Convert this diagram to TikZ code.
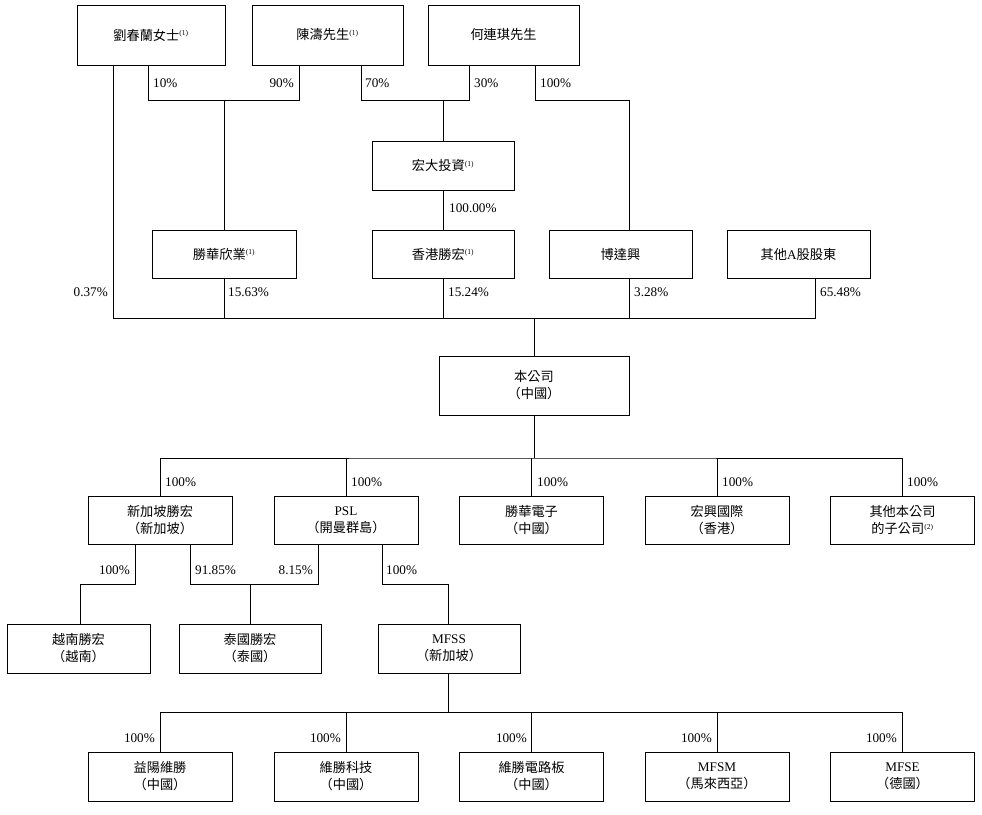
\documentclass[tikz,border=0pt]{standalone}
\usepackage{fontspec}
\setmainfont{Liberation Serif}
\newfontfamily\cjk{Noto Sans CJK TC}
\newcommand{\nt}[1]{\textsuperscript{\fontsize{7.5}{8}\selectfont\rmfamily(#1)}}
\begin{document}
\begin{tikzpicture}[x=1pt,y=-1pt,
  box/.style={draw, line width=0.8pt, inner sep=0pt, align=center,
    font=\fontsize{13.2}{17}\selectfont\cjk},
  pct/.style={inner sep=0pt, font=\fontsize{13.2}{14}\selectfont\rmfamily},
  ln/.style={line width=0.8pt}]
\useasboundingbox[fill=white] (0,0) rectangle (982,814);
% row 1
\node[box, minimum width=148, minimum height=60] (liu) at (151,35) {劉春蘭女士\nt{1}};
\node[box, minimum width=151, minimum height=60] (chen) at (327.5,35) {\raisebox{-2pt}{陳濤先生\nt{1}}};
\node[box, minimum width=151, minimum height=60] (he) at (503.5,35) {何連琪先生};
% hongda
\node[box, minimum width=142, minimum height=49] (hongda) at (443,165.5) {宏大投資\nt{1}};
% row 2
\node[box, minimum width=144, minimum height=48] (shwx) at (224,254) {勝華欣業\nt{1}};
\node[box, minimum width=142, minimum height=48] (hksh) at (443,254) {香港勝宏\nt{1}};
\node[box, minimum width=143, minimum height=48] (bdx) at (620.5,254) {博達興};
\node[box, minimum width=143, minimum height=48] (otha) at (798.5,254) {其他{\rmfamily A}股股東};
% company
\node[box, minimum width=190, minimum height=59] (comp) at (534,385.5) {本公司\\（中國）};
% row 3
\node[box, minimum width=144, minimum height=48] (sg) at (160,520) {新加坡勝宏\\（新加坡）};
\node[box, minimum width=144, minimum height=48] (psl) at (346,520) {{\rmfamily PSL}\\（開曼群島）};
\node[box, minimum width=144, minimum height=48] (shdz) at (531.5,520) {勝華電子\\（中國）};
\node[box, minimum width=144, minimum height=48] (hxgj) at (717,520) {宏興國際\\（香港）};
\node[box, minimum width=144, minimum height=48] (othsub) at (902.5,520) {其他本公司\\的子公司\nt{2}};
% row 4
\node[box, minimum width=143, minimum height=49] (vn) at (78.5,648.5) {越南勝宏\\（越南）};
\node[box, minimum width=142, minimum height=49] (th) at (250,648.5) {泰國勝宏\\（泰國）};
\node[box, minimum width=142, minimum height=49] (mfss) at (449,648.5) {{\rmfamily MFSS}\\（新加坡）};
% row 5
\node[box, minimum width=144, minimum height=49] (yy) at (160,776.5) {益陽維勝\\（中國）};
\node[box, minimum width=144, minimum height=49] (wskj) at (346,776.5) {維勝科技\\（中國）};
\node[box, minimum width=144, minimum height=49] (wsdl) at (531.5,776.5) {維勝電路板\\（中國）};
\node[box, minimum width=144, minimum height=49] (mfsm) at (717,776.5) {{\rmfamily MFSM}\\（馬來西亞）};
\node[box, minimum width=144, minimum height=49] (mfse) at (902.5,776.5) {{\rmfamily MFSE}\\（德國）};

% junction coordinates
\coordinate (a1) at (148,100); \coordinate (a2) at (299,100);
\coordinate (b1) at (361,100); \coordinate (b2) at (469,100);
\coordinate (c1) at (535,100); \coordinate (c2) at (629,100);
\coordinate (busL) at (113,318); \coordinate (busR) at (815,318);
\coordinate (busC) at (534,318);
\coordinate (m) at (534,458);
\coordinate (e1) at (135,584); \coordinate (e2) at (80,584);
\coordinate (f1) at (190,584); \coordinate (f2) at (318,584);
\coordinate (g1) at (382,584); \coordinate (g2) at (448,584);
\coordinate (n) at (448,712);

% top connectors
\draw[ln] (liu.south -| a1) |- (a2) -- (chen.south -| a2);
\draw[ln] (shwx.north) -- (shwx.north |- a1);
\draw[ln] (chen.south -| b1) |- (b2) -- (he.south -| b2);
\draw[ln] (hongda.north) -- (hongda.north |- b1);
\draw[ln] (he.south -| c1) |- (c2) -- (bdx.north -| c2);
\draw[ln] (hongda) -- (hksh);
\draw[ln] (liu.south -| busL) -- (busL) -- (busR) -- (otha.south -| busR);
\draw[ln] (shwx.south) -- (shwx.south |- busL);
\draw[ln] (hksh.south) -- (hksh.south |- busL);
\draw[ln] (bdx.south -| c2) -- (c2 |- busL);
\draw[ln] (busC) -- (comp.north -| busC);
% middle
\draw[ln] (comp.south -| m) -- (m);
\draw[ln] (sg.north) |- (m) -| (othsub.north);
\draw[ln] (psl.north) -- (psl.north |- m);
\draw[ln] (shdz.north) -- (shdz.north |- m);
\draw[ln] (hxgj.north) -- (hxgj.north |- m);
% row 3 -> 4
\draw[ln] (sg.south -| e1) |- (e2) -- (vn.north -| e2);
\draw[ln] (sg.south -| f1) |- (f2) -- (psl.south -| f2);
\draw[ln] (th.north) -- (th.north |- f1);
\draw[ln] (psl.south -| g1) |- (g2) -- (mfss.north -| g2);
% row 4 -> 5
\draw[ln] (mfss.south -| n) -- (n);
\draw[ln] (yy.north) |- (n) -| (mfse.north);
\draw[ln] (wskj.north) -- (wskj.north |- n);
\draw[ln] (wsdl.north) -- (wsdl.north |- n);
\draw[ln] (mfsm.north) -- (mfsm.north |- n);

% labels
\node[pct, anchor=west] (p1) at (153,83) {10\%};
\node[pct, anchor=east] (p2) at (294,83) {90\%};
\node[pct, anchor=west] (p3) at (365,83) {70\%};
\node[pct, anchor=west] (p4) at (474,83) {30\%};
\node[pct, anchor=west] (p5) at (540,83) {100\%};
\node[pct, anchor=west] (p6) at (449,208) {100.00\%};
\node[pct, anchor=east] (p7) at (108,292) {0.37\%};
\node[pct, anchor=west] (p8) at (228,292) {15.63\%};
\node[pct, anchor=west] (p9) at (448,292) {15.24\%};
\node[pct, anchor=west] (p10) at (634,292) {3.28\%};
\node[pct, anchor=west] (p11) at (820,292) {65.48\%};
\foreach \x/\nm in {160/q1,346/q2,532/q3,717/q4,902/q5}
  \node[pct, anchor=west] (\nm) at (\x+5,482) {100\%};
\node[pct, anchor=east] (r1) at (130,570) {100\%};
\node[pct, anchor=west] (r2) at (195,570) {91.85\%};
\node[pct, anchor=east] (r3) at (313,570) {8.15\%};
\node[pct, anchor=west] (r4) at (386,570) {100\%};
\foreach \x/\nm in {160/s1,346/s2,532/s3,717/s4,902/s5}
  \node[pct, anchor=east] (\nm) at (\x-5,738) {100\%};
\end{tikzpicture}
\end{document}
